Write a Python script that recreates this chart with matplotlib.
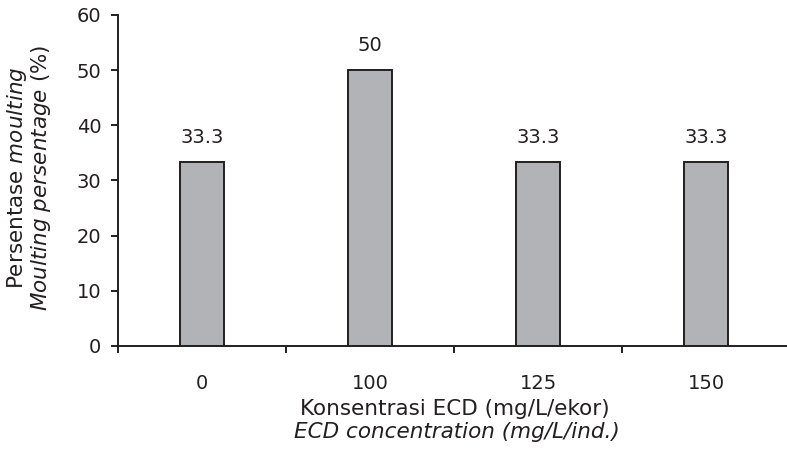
import matplotlib.pyplot as plt
import numpy as np

categories = ["0", "100", "125", "150"]
moulting_pct = [33.3, 50, 33.3, 33.3]
value_labels = ["33.3", "50", "33.3", "33.3"]

INK = "#231f20"
plt.rcParams["font.family"] = "DejaVu Sans"
plt.rcParams["mathtext.fontset"] = "dejavusans"
plt.rcParams["text.color"] = INK

fig = plt.figure(figsize=(7.87, 4.49), dpi=100)
ax = fig.add_axes([0.1499, 0.2294, 0.8541, 0.7372])

x = np.arange(len(categories))
bars = ax.bar(x, moulting_pct, width=0.26, color="#b1b3b6",
              edgecolor=INK, linewidth=1.4, zorder=2)

for rect, lab in zip(bars, value_labels):
    ax.annotate(lab, (rect.get_x() + rect.get_width() / 2, rect.get_height()),
                xytext=(0, 11), textcoords="offset points",
                ha="center", va="bottom", fontsize=14, color=INK)

ax.set_xlim(-0.5, 3.5)
ax.set_ylim(0, 60)
ax.set_yticks(range(0, 61, 10))

# category labels on major ticks, tick marks on minor ticks between groups
ax.set_xticks(x)
ax.set_xticklabels(categories)
ax.set_xticks(np.arange(-0.5, 3.6, 1.0), minor=True)
ax.tick_params(axis="x", which="major", length=0, pad=20, labelsize=14, colors=INK)
ax.tick_params(axis="x", which="minor", length=5, width=1.4, color=INK)
ax.tick_params(axis="y", length=5, width=1.4, pad=7, labelsize=14, colors=INK)

for side in ("top", "right"):
    ax.spines[side].set_visible(False)
for side in ("left", "bottom"):
    ax.spines[side].set_linewidth(1.4)
    ax.spines[side].set_color(INK)

fig.text(0.022, 0.605, r"Persentase $\it{moulting}$", rotation=90,
         ha="center", va="center", fontsize=15.5)
fig.text(0.052, 0.605, r"$\it{Moulting\ persentage}$ (%)", rotation=90,
         ha="center", va="center", fontsize=15.5)
fig.text(0.578, 0.089, "Konsentrasi ECD (mg/L/ekor)", ha="center",
         va="center", fontsize=15.5)
fig.text(0.580, 0.038, "ECD concentration (mg/L/ind.)", ha="center",
         va="center", fontsize=15.5, style="italic")

fig.savefig("out.png", dpi=100)
